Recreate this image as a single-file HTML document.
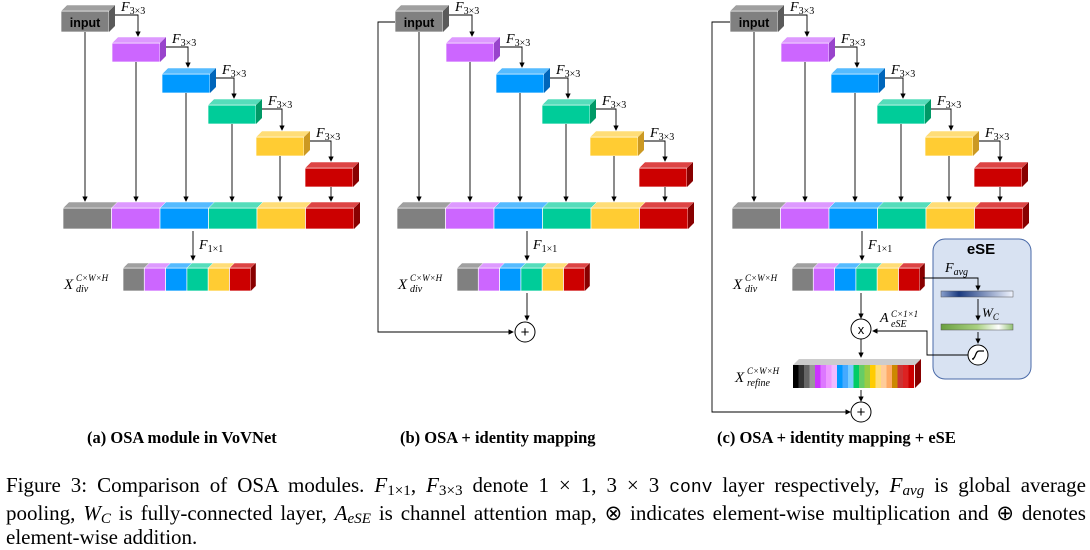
<!DOCTYPE html>
<html><head><meta charset="utf-8"><style>
body{margin:0;background:#fff;width:1090px;height:549px;overflow:hidden;position:relative;font-family:"Liberation Serif",serif}
svg{position:absolute;left:0;top:0}
.cap{position:absolute;left:6px;top:473px;width:1080px;font-size:21px;line-height:24.6px;color:#000}
.cap div{white-space:nowrap}
.j{text-align:justify;text-align-last:justify}
.t{position:absolute;top:428px;font-size:16.5px;font-weight:bold;white-space:nowrap}
sub{font-size:72%;vertical-align:-3px;line-height:0}
i{font-style:italic}
</style></head><body>
<svg id="s" width="1090" height="549" xmlns="http://www.w3.org/2000/svg"></svg>
<div class="t" style="left:87px">(a) OSA module in VoVNet</div>
<div class="t" style="left:400px">(b) OSA + identity mapping</div>
<div class="t" style="left:717px">(c) OSA + identity mapping + eSE</div>
<div class="cap">
<div class="j" style="white-space:normal">Figure 3: Comparison of OSA modules. <i>F</i><sub>1×1</sub>, <i>F</i><sub>3×3</sub> denote 1 × 1, 3 × 3 <span style="font-family:'Liberation Mono',monospace;font-size:18px">conv</span> layer respectively, <i>F<sub>avg</sub></i> is global average</div>
<div class="j" style="white-space:normal">pooling, <i>W<sub>C</sub></i> is fully-connected layer, <i>A<sub>eSE</sub></i> is channel attention map, ⊗ indicates element-wise multiplication and ⊕ denotes</div>
<div>element-wise addition.</div>
</div>
<script>
var C=[["#808080","#a0a0a0","#5a5a5a"],["#cc66ff","#dd99ff","#9944cc"],["#0099ff","#55bbff","#0066bb"],["#00cc99","#55ddbb","#009966"],["#ffcc33","#ffdd77","#cc9922"],["#cc0000","#dd4444","#880000"]];
var o='<defs><marker id="a" markerWidth="6" markerHeight="6" refX="5" refY="3" orient="auto"><path d="M0,0L6,3L0,6z" fill="#000"/></marker><linearGradient id="gb"><stop offset="0" stop-color="#8aa0cc"/><stop offset="0.25" stop-color="#1a3a80"/><stop offset="1" stop-color="#f0f4ff"/></linearGradient><linearGradient id="gg"><stop offset="0" stop-color="#6aa040"/><stop offset="0.5" stop-color="#a8d080"/><stop offset="0.8" stop-color="#ffffff"/><stop offset="1" stop-color="#90c070"/></linearGradient></defs>';
function cube(x,y,w,h,c,d){d=d||6;o+='<rect x="'+x+'" y="'+y+'" width="'+w+'" height="'+h+'" fill="'+c[0]+'" stroke="#fff" stroke-width="0.7"/>';
o+='<polygon points="'+x+','+y+' '+(x+d)+','+(y-d)+' '+(x+w+d)+','+(y-d)+' '+(x+w)+','+y+'" fill="'+c[1]+'" stroke="#fff" stroke-width="0.5"/>';
o+='<polygon points="'+(x+w)+','+y+' '+(x+w+d)+','+(y-d)+' '+(x+w+d)+','+(y+h-d)+' '+(x+w)+','+(y+h)+'" fill="'+c[2]+'"/>';}
function ln(p,arr){o+='<polyline points="'+p+'" fill="none" stroke="#000" stroke-width="0.9"'+(arr?' marker-end="url(#a)"':'')+'/>';}
function tx(x,y,s,sz,ex){o+='<text x="'+x+'" y="'+y+'" font-family="Liberation Serif,serif" font-style="italic" font-size="'+(sz||14)+'" '+(ex||'')+'>'+s+'</text>';}
function F(x,y,sub){tx(x,y,'F<tspan font-size="10" dy="3" font-style="normal">'+sub+'</tspan>');}
function panel(ox){
 var bx=[61,112,162,208,256,305],by=[11,43,74,105,137,168];
 for(var i=0;i<6;i++){
  cube(ox+bx[i],by[i],48,i==0?21:19,C[i]);
  var cx=ox+bx[i]+24+(i==5?2:0);
  ln(cx+','+(by[i]+(i==0?21:19))+' '+cx+',201',1);
  if(i<5){var nx=ox+bx[i+1]+26;ln((ox+bx[i]+54)+','+(by[i]+4)+' '+nx+','+(by[i]+4)+' '+nx+','+(by[i+1]-7),1);F(ox+bx[i]+60,by[i],'3×3');}
 }
 o+='<text x="'+(ox+85)+'" y="'+27+'" font-family="Liberation Sans,sans-serif" font-weight="bold" font-size="12.5" fill="#000" text-anchor="middle">input</text>';
 for(var i=0;i<6;i++)cube(ox+63+i*48.5,208,48.5,21,C[i]);
 ln((ox+193)+',231 '+(ox+193)+',260',1);F(ox+199,249,'1×1');
 for(var i=0;i<6;i++)cube(ox+123+i*21.3,268,21.3,23,C[i],5);
 tx(ox+64,289,'X',15);tx(ox+76,281,'C×W×H',9);tx(ox+76,292,'div',10);
}
panel(0);panel(334);panel(669);
ln('730,22 712,22 712,412 850,412',1);
ln('395,22 378,22 378,332 513,332',1);
ln('527,293 527,320',1);
o+='<circle cx="525" cy="332" r="10" fill="#fff" stroke="#000"/><text x="525" y="337" font-size="15" text-anchor="middle" font-family="Liberation Sans">+</text>';
o+='<rect x="933" y="239" width="98" height="140" rx="12" fill="#d8e2f2" stroke="#4a6aa8" stroke-width="1"/>';
o+='<text x="981" y="254" font-family="Liberation Sans,sans-serif" font-weight="bold" font-size="15" text-anchor="middle">eSE</text>';
ln('923,278 978,278 978,290',1);tx(945,272,'F<tspan font-size="10" dy="3">avg</tspan>');
o+='<rect x="941" y="291" width="72" height="6" fill="url(#gb)" stroke="#555" stroke-width="0.5"/>';
ln('978,299 978,320',1);tx(982,317,'W<tspan font-size="9" dy="3">C</tspan>',13);
o+='<rect x="941" y="324" width="72" height="6" fill="url(#gg)" stroke="#555" stroke-width="0.5"/>';
ln('978,332 978,343',1);
o+='<circle cx="978" cy="355" r="10" fill="#fff" stroke="#000"/><path d="M972,359 C976,359 975,351 979,351 L984,351 M972,359 L974,359" fill="none" stroke="#000" stroke-width="1.2"/>';
ln('968,355 927,355 927,331 873,331',1);
tx(880,322,'A',14);tx(891,317,'C×1×1',9);tx(891,327,'eSE',10);
ln('861,293 861,318',1);
o+='<circle cx="861" cy="329" r="10" fill="#fff" stroke="#000"/><text x="861" y="334" font-size="13" text-anchor="middle" font-family="Liberation Sans">x</text>';
ln('861,339 861,357',1);
var st=["#000","#333","#666","#999","#cc33ff","#dd77ff","#ee99ff","#f0bbff","#0099ff","#44aaff","#77ccff","#00cc66","#66cc66","#99cc44","#ffcc00","#ffdd77","#ffcc99","#ffaa66","#cc8800","#cc3333","#dd2222","#cc0000"];
for(var i=0;i<st.length;i++)o+='<rect x="'+(793+i*5.5)+'" y="365" width="5.6" height="23" fill="'+st[i]+'"/>';
o+='<polygon points="793,365 799,359 921,359 915,365" fill="#ccc"/><polygon points="915,365 921,359 921,382 915,388" fill="#880000"/>';
tx(735,382,'X',15);tx(747,374,'C×W×H',9);tx(747,386,'refine',10);
ln('861,390 861,401',1);
o+='<circle cx="861" cy="412" r="10" fill="#fff" stroke="#000"/><text x="861" y="417" font-size="15" text-anchor="middle" font-family="Liberation Sans">+</text>';
document.getElementById('s').innerHTML=o;
</script>
</body></html>
